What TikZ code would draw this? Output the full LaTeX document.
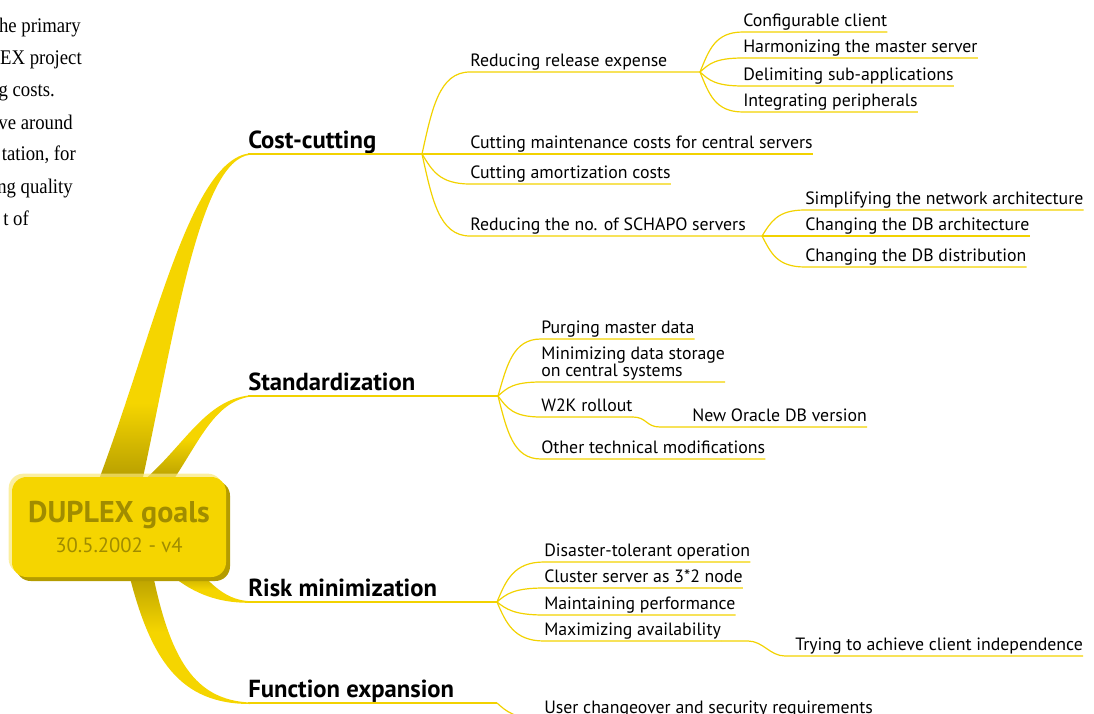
\documentclass[tikz,border=0pt]{standalone}
\usepackage{fontspec}
\setmainfont{PT Sans}
\newfontfamily\leftserif[FakeStretch=0.9]{Liberation Serif}
\usetikzlibrary{calc}
\definecolor{gold}{RGB}{245,213,0}
\definecolor{linec}{RGB}{242,210,0}
\definecolor{olive}{RGB}{180,156,0}
\definecolor{darktext}{RGB}{160,140,0}
\definecolor{glow}{RGB}{250,232,120}
\pgfdeclareverticalshading{brcost}{100bp}{color(0bp)=(olive); color(25bp)=(olive); color(37bp)=(gold); color(100bp)=(gold)}
\pgfdeclareverticalshading{brstd}{100bp}{color(0bp)=(olive); color(25bp)=(olive); color(50bp)=(gold); color(100bp)=(gold)}
\pgfdeclareverticalshading{brrisk}{100bp}{color(0bp)=(gold); color(45bp)=(gold); color(75bp)=(olive); color(100bp)=(olive)}
\pgfdeclareverticalshading{brfunc}{100bp}{color(0bp)=(gold); color(52bp)=(gold); color(75bp)=(olive); color(100bp)=(olive)}
\begin{document}
\begin{tikzpicture}[x=0.75pt,y=-0.75pt,
  twig/.style={draw=linec, line width=0.9pt},
  leaf/.style={anchor=south west, inner xsep=0pt, inner ysep=1.6pt, text depth=0.22em, font=\fontsize{13.35}{13}\selectfont},
  mainlbl/.style={anchor=south west, inner xsep=0pt, inner ysep=2pt, text depth=0.22em, font=\bfseries\fontsize{18.5}{20}\selectfont},
  serifline/.style={anchor=base east, inner sep=0pt, font=\leftserif\fontsize{15.6}{16}\selectfont},
  centerbox/.style={rounded corners=11pt, fill=gold, minimum width=160.5pt, minimum height=75pt, align=center, text=darktext, inner sep=0pt,
    preaction={fill=olive, transform canvas={xshift=3pt,yshift=-3pt}},
    preaction={fill=glow, opacity=0.7, transform canvas={xshift=-2.5pt,yshift=2.5pt}}}
]
\useasboundingbox (0,0) rectangle (1094,713);
\clip (0,0) rectangle (1094,713);

% left column text fragments
\node[serifline] (l1) at (81,33) {he primary};
\node[serifline] (l2) at (82,65) {EX project};
\node[serifline] (l3) at (55,97) {g costs.};
\node[serifline] (l4) at (73,129) {ve around};
\node[serifline] (l5) at (76,161) {tation, for};
\node[serifline] (l6) at (73,193) {ng quality};
\node[serifline] (l7) at (29,225) {t of};

% thick main branches
\shade[shading=brcost] (98,482) .. controls (155,330) and (190,160) .. (250,153.2) -- (250,154.8) .. controls (200,160) and (175,330) .. (142,482) -- cycle;
\shade[shading=brstd] (142,482) .. controls (185,445) and (205,400) .. (250,395.3) -- (250,396.7) .. controls (215,402) and (200,440) .. (172,482) -- cycle;
\shade[shading=brrisk] (198,570) .. controls (215,588) and (228,600) .. (250,601.2) -- (250,602.8) .. controls (215,603) and (190,592) .. (165,570) -- cycle;
\shade[shading=brfunc] (128,570) .. controls (150,660) and (180,704) .. (250,704) -- (250,702.5) .. controls (195,700) and (170,660) .. (152,570) -- cycle;

% central node
\node[centerbox] (goal) at (119,527) {\bfseries\fontsize{22.5}{24}\selectfont DUPLEX goals\\[6pt]\mdseries\fontsize{15.5}{16}\selectfont 30.5.2002 - v4};

% Cost-cutting
\node[mainlbl] (cost) at (248,154) {Cost-cutting};
\coordinate (cc) at (422,154);
\draw[twig] (cost.south west) -- (cc);
\node[leaf] (r1) at (470,72) {Reducing release expense};
\coordinate (rb) at (700,72);
\draw[twig] (cc) .. controls +(10,-45) and +(-31,0) .. (r1.south west) -- (rb);
\node[leaf] (r2) at (470,154) {Cutting maintenance costs for central servers};
\draw[twig] (cc) -- (r2.south east);
\node[leaf] (r3) at (470,184) {Cutting amortization costs};
\draw[twig] (cc) .. controls +(10,16) and +(-31,0) .. (r3.south west) -- (r3.south east);
\node[leaf] (r4) at (470,236) {Reducing the no. of SCHAPO servers};
\coordinate (sb) at (762,236);
\draw[twig] (cc) .. controls +(10,45) and +(-31,0) .. (r4.south west) -- (sb);

\node[leaf] (k1) at (743,32) {Configurable client};
\draw[twig] (rb) .. controls +(9,-22) and +(-28,0) .. (k1.south west) -- (k1.south east);
\node[leaf] (k2) at (743,58) {Harmonizing the master server};
\draw[twig] (rb) .. controls +(9,-8) and +(-28,0) .. (k2.south west) -- (k2.south east);
\node[leaf] (k3) at (743,86) {Delimiting sub-applications};
\draw[twig] (rb) .. controls +(9,8) and +(-28,0) .. (k3.south west) -- (k3.south east);
\node[leaf] (k4) at (743,112) {Integrating peripherals};
\draw[twig] (rb) .. controls +(9,22) and +(-28,0) .. (k4.south west) -- (k4.south east);

\node[leaf] (s1) at (805,210) {Simplifying the network architecture};
\draw[twig] (sb) .. controls +(9,-14) and +(-28,0) .. (s1.south west) -- (s1.south east);
\node[leaf] (s2) at (805,236) {Changing the DB architecture};
\draw[twig] (sb) -- (s2.south east);
\node[leaf] (s3) at (805,267) {Changing the DB distribution};
\draw[twig] (sb) .. controls +(9,17) and +(-28,0) .. (s3.south west) -- (s3.south east);

% Standardization
\node[mainlbl] (std) at (248,396) {Standardization};
\coordinate (sp) at (498,396);
\draw[twig] (std.south west) -- (sp);
\node[leaf] (d1) at (541,339) {Purging master data};
\draw[twig] (sp) .. controls +(9,-31) and +(-28,0) .. (d1.south west) -- (d1.south east);
\node[leaf, align=left] (d2) at (541,382) {Minimizing data storage\\on central systems};
\draw[twig] (sp) .. controls +(9,-8) and +(-28,0) .. (d2.south west) -- (725,382);
\node[leaf] (d3) at (541,417) {W2K rollout};
\draw[twig] (sp) .. controls +(9,12) and +(-28,0) .. (d3.south west) -- (d3.south east);
\node[leaf] (n1) at (692,427) {New Oracle DB version};
\coordinate (n1s) at (660,427);
\draw[twig] (d3.south east) .. controls +(14,0) and +(-14,0) .. (n1s) -- (n1.south east);
\node[leaf] (d4) at (541,459) {Other technical modifications};
\draw[twig] (sp) .. controls +(9,35) and +(-28,0) .. (d4.south west) -- (d4.south east);

% Risk minimization
\node[mainlbl] (risk) at (248,602) {Risk minimization};
\coordinate (rp) at (497,602);
\draw[twig] (risk.south west) -- (rp);
\node[leaf] (q1) at (544,562) {Disaster-tolerant operation};
\draw[twig] (rp) .. controls +(9,-22) and +(-30,0) .. (q1.south west) -- (q1.south east);
\node[leaf] (q2) at (544,588) {Cluster server as 3*2 node};
\draw[twig] (rp) .. controls +(9,-8) and +(-30,0) .. (q2.south west) -- (q2.south east);
\node[leaf] (q3) at (544,615) {Maintaining performance};
\draw[twig] (rp) .. controls +(9,7) and +(-30,0) .. (q3.south west) -- (q3.south east);
\node[leaf] (q4) at (544,641) {Maximizing availability};
\draw[twig] (rp) .. controls +(9,21) and +(-30,0) .. (q4.south west) -- (q4.south east);
\coordinate (q4e) at (748,641);
\node[leaf] (t1) at (795,656) {Trying to achieve client independence};
\coordinate (t1s) at (785,656);
\draw[twig] (q4.south east) -- (q4e) .. controls +(15,0) and +(-15,0) .. (t1s) -- (t1.south east);

% Function expansion
\node[mainlbl] (func) at (248,703) {Function expansion};
\coordinate (fp) at (497,703);
\draw[twig] (func.south west) -- (fp);
\node[leaf] (u1) at (544,719) {User changeover and security requirements};
\draw[twig] (fp) .. controls +(9,8) and +(-30,0) .. (u1.south west) -- (u1.south east);
\end{tikzpicture}
\end{document}
